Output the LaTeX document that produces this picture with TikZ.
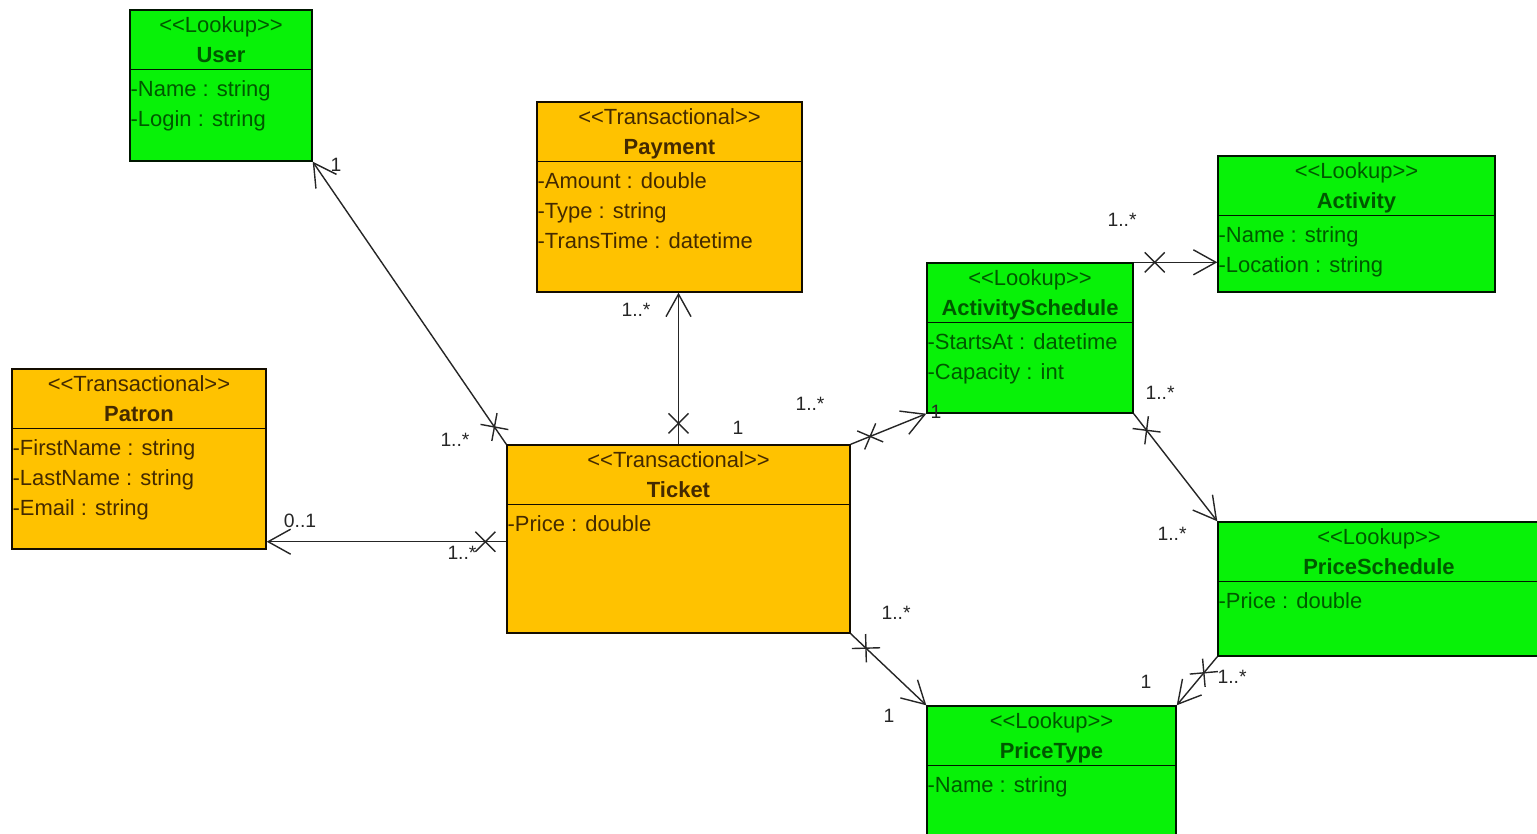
\documentclass[tikz,border=0pt]{standalone}
\usepackage{fontspec}
\newfontfamily\umlfont{Liberation Sans}
\usetikzlibrary{calc,fit,arrows.meta,decorations.markings}
\definecolor{lookupgreen}{RGB}{8,242,8}
\definecolor{lookupdark}{RGB}{0,88,0}
\definecolor{transorange}{RGB}{255,194,0}
\definecolor{transdark}{RGB}{68,42,0}

% class box: name, kind (lookup/trans), corners, stereotype, title, attributes
\newcommand{\umlbox}[7]{%
  \node[#2box, fit={#3 #4}] (#1) {};
  \draw[#2line] ($(#1.north west)+(0,60)$) -- ($(#1.north east)+(0,60)$);
  \node[#2text, anchor=base] (#1-st) at ($(#1.north)+(0,23)$) {<{}<#5>{}>};
  \node[#2text, anchor=base, font=\umlfont\fontsize{12.5}{15}\selectfont\bfseries] (#1-nm) at ($(#1.north)+(0,53)$) {#6};
  \foreach \attr [count=\row] in {#7}
    \node[#2text, anchor=base west] (#1-a\row) at ($(#1.north west)+(1,57+30*\row)$) {\attr};
}

\begin{document}
\begin{tikzpicture}[x=0.02cm, y=-0.02cm, font=\umlfont\fontsize{12.5}{15}\selectfont]

\tikzset{lookupbox/.style={fill=lookupgreen, draw=black!75!lookupdark, line width=0.8pt, inner sep=0pt},
lookupline/.style={draw=black!75!lookupdark, line width=0.8pt},
lookuptext/.style={text=lookupdark, inner sep=0pt},
transbox/.style={fill=transorange, draw=black!70!transdark, line width=0.8pt, inner sep=0pt},
transline/.style={draw=black!70!transdark, line width=0.8pt},
transtext/.style={text=transdark, inner sep=0pt},
mult/.style={font=\umlfont\fontsize{11}{13}\selectfont, text=black!85, inner sep=0pt},
assoc/.style={line width=0.8pt, draw=black!85, -{Straight Barb[length=0.45cm,width=0.5cm]},
  postaction={decorate}, decoration={markings, mark=at position 0.42cm with {\draw[-] (-10,-10) -- (10,10) (-10,10) -- (10,-10);}}}}

\useasboundingbox (0,0) rectangle (1537,834);

% classes
\umlbox{user}{lookup}{(130,10)}{(312,161)}{Lookup}{User}{-Name : string,-Login : string}
\umlbox{payment}{trans}{(537,102)}{(802,292)}{Transactional}{Payment}{-Amount : double,-Type : string,-TransTime : datetime}
\umlbox{patron}{trans}{(12,369)}{(266,549)}{Transactional}{Patron}{-FirstName : string,-LastName : string,-Email : string}
\umlbox{ticket}{trans}{(507,445)}{(850,633)}{Transactional}{Ticket}{-Price : double}
\umlbox{actsched}{lookup}{(927,263)}{(1133,413)}{Lookup}{ActivitySchedule}{-StartsAt : datetime,-Capacity : int}
\umlbox{activity}{lookup}{(1218,156)}{(1495,292)}{Lookup}{Activity}{-Name : string,-Location : string}
\umlbox{pricesched}{lookup}{(1218,522)}{(1540,656)}{Lookup}{PriceSchedule}{-Price : double}
\umlbox{pricetype}{lookup}{(927,706)}{(1176,845)}{Lookup}{PriceType}{-Name : string}

% associations (cross at the non-navigable end)
\draw[assoc] (ticket.north west) -- (user.south east);
\draw[assoc] (ticket.north) -- (ticket.north |- payment.south);
\draw[assoc] ([yshift=0.16cm]ticket.west |- patron.south) -- ([yshift=0.16cm]patron.south east);
\draw[assoc] (ticket.north east) -- (actsched.south west);
\draw[assoc] (actsched.north east) -- (actsched.north east -| activity.west);
\draw[assoc] (actsched.south east) -- (pricesched.north west);
\draw[assoc] (ticket.south east) -- (pricetype.north west);
\draw[assoc] (pricesched.south west) -- (pricetype.north east);

% multiplicities
\node[mult] (m-user) at (336,165) {1};
\node[mult] (m-tu) at (455,440) {1..*};
\node[mult] (m-pay) at (636,310) {1..*};
\node[mult] (m-tp) at (738,428) {1};
\node[mult] (m-patron) at (300,521) {0..1};
\node[mult] (m-tpat) at (462,553) {1..*};
\node[mult] (m-ta) at (810,404) {1..*};
\node[mult] (m-as) at (936,412) {1};
\node[mult] (m-act) at (1122,220) {1..*};
\node[mult] (m-asps) at (1160,393) {1..*};
\node[mult] (m-ps) at (1172,534) {1..*};
\node[mult] (m-tpt) at (896,613) {1..*};
\node[mult] (m-pt) at (889,716) {1};
\node[mult] (m-pspt) at (1232,677) {1..*};
\node[mult] (m-pt2) at (1146,682) {1};

\end{tikzpicture}
\end{document}
